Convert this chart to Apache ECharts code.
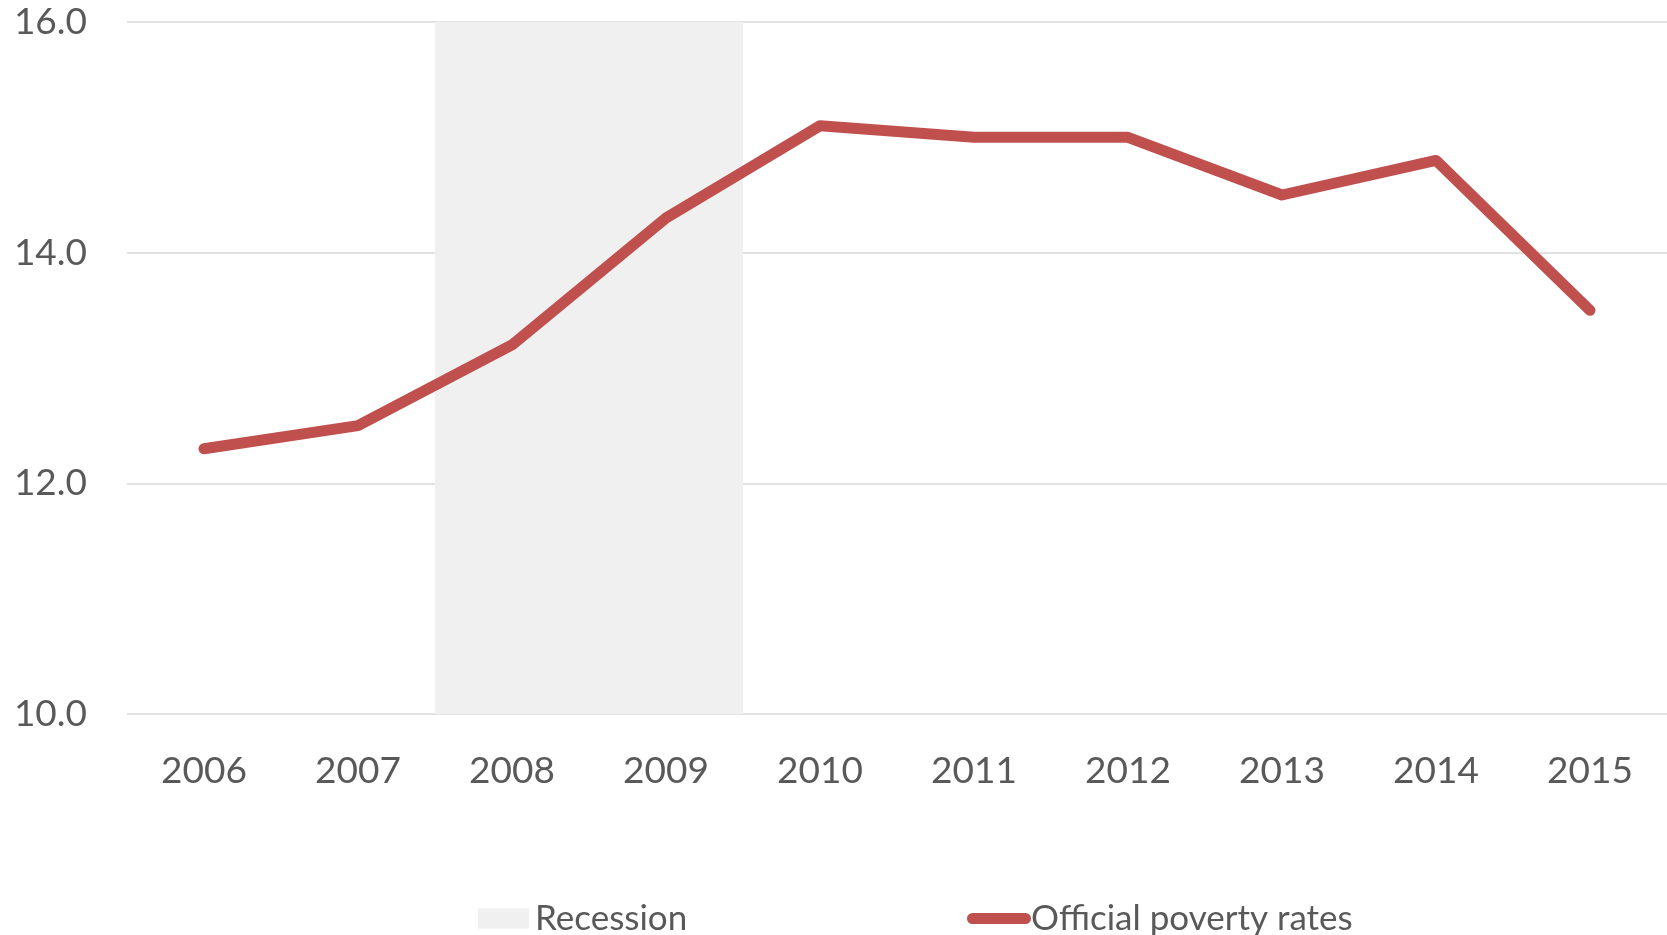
<!DOCTYPE html>
<html>
<head>
<meta charset="utf-8">
<script src="https://cdn.jsdelivr.net/npm/echarts@6/dist/echarts.min.js"></script>
<style>
html,body{margin:0;padding:0;background:#fff;}
#chart{width:1667px;height:935px;}
</style>
</head>
<body>
<div id="chart"></div>
<script>
const years = ['2006','2007','2008','2009','2010','2011','2012','2013','2014','2015'];
const povertyRates = [12.3, 12.5, 13.2, 14.3, 15.1, 15.0, 15.0, 14.5, 14.8, 13.5];
const recessionYears = ['2008','2009'];
const recessionTop = 16;
const yTicks = { min: 10, max: 16, interval: 2 };

const recessionData = years.map(y => recessionYears.includes(y) ? recessionTop : null);

const textColor = '#595959';
const fontFamily = 'Lato, "Open Sans", sans-serif';

const chart = echarts.init(document.getElementById('chart'));
chart.setOption({
  animation: false,
  backgroundColor: '#ffffff',
  grid: { left: 127, right: 0, top: 22, bottom: 221, containLabel: false },
  legend: [
    {
      data: ['Recession'],
      left: 473, top: 896,
      itemWidth: 51, itemHeight: 20, itemGap: 0,
      icon: 'rect',
      textStyle: { color: textColor, fontSize: 35, fontFamily: fontFamily, padding: [0,0,0,1] }
    },
    {
      data: ['Official poverty rates'],
      left: 962, top: 896,
      itemWidth: 64, itemHeight: 11, itemGap: 0,
      icon: 'path://M5.5,0 H58.5 A5.5,5.5 0 0 1 58.5,11 H5.5 A5.5,5.5 0 0 1 5.5,0 Z',
      textStyle: { color: textColor, fontSize: 35, fontFamily: fontFamily, padding: [0,0,0,-5] }
    }
  ],
  xAxis: {
    type: 'category',
    data: years,
    boundaryGap: true,
    axisLine: { show: false },
    axisTick: { show: false },
    axisLabel: { color: textColor, fontSize: 37, fontFamily: fontFamily, margin: 39 }
  },
  yAxis: {
    type: 'value',
    min: yTicks.min, max: yTicks.max, interval: yTicks.interval,
    axisLine: { show: false },
    axisTick: { show: false },
    splitLine: { lineStyle: { color: '#d9d9d9', width: 1.5 } },
    axisLabel: {
      color: textColor, fontSize: 37, fontFamily: fontFamily, margin: 40,
      formatter: v => v.toFixed(1)
    }
  },
  series: [
    {
      name: 'Recession',
      type: 'bar',
      data: recessionData,
      barWidth: '100%',
      barGap: '-100%',
      itemStyle: { color: '#f0f0f0' },
      z: 1,
      silent: true
    },
    {
      name: 'Official poverty rates',
      type: 'line',
      data: povertyRates,
      symbol: 'none',
      lineStyle: { color: '#c0504d', width: 11, cap: 'round', join: 'round' },
      itemStyle: { color: '#c0504d' },
      z: 3
    }
  ]
});
</script>
</body>
</html>
